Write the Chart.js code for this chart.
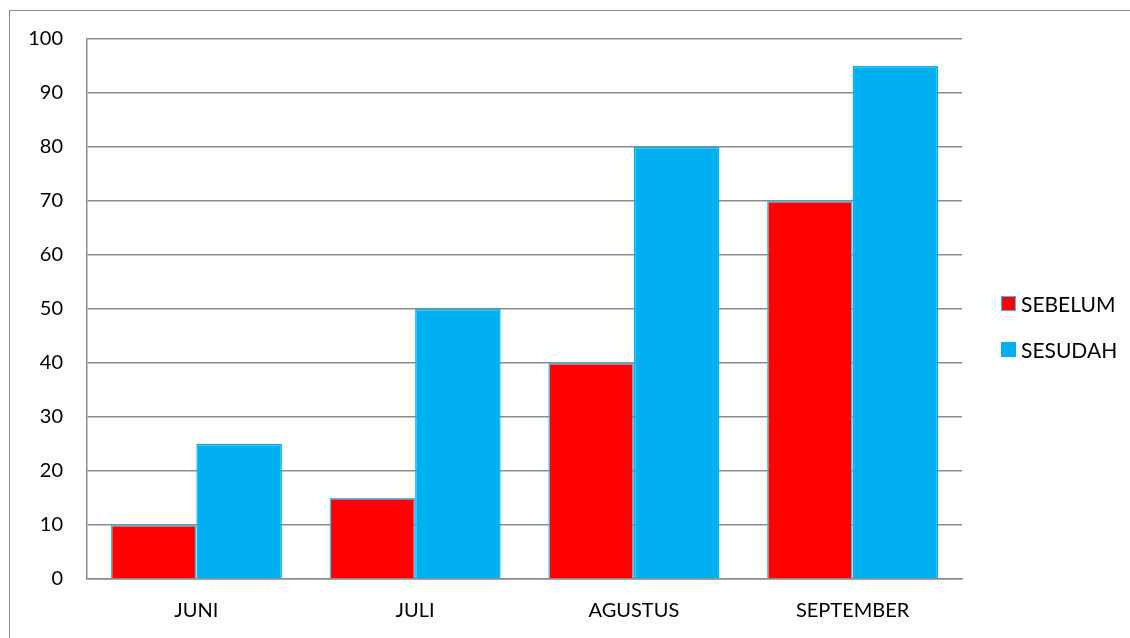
<!DOCTYPE html>
<html>
<head>
<meta charset="utf-8">
<script src="https://cdn.jsdelivr.net/npm/chart.js@4"></script>
<style>
  html, body { margin: 0; padding: 0; background: #fff; overflow: hidden; }
  #frame { position: absolute; left: 9px; top: 10px; width: 1140px; height: 650px; border: 1.5px solid #8c8c8c; box-sizing: border-box; }
  #wrap { position: absolute; left: 0; top: 0; width: 1130px; height: 638px; }
  #legend { position: absolute; left: 1001px; top: 291px; font-family: Lato, "Open Sans", sans-serif; font-size: 21px; color: #000; }
  .item { display: flex; align-items: center; height: 24px; margin-bottom: 22px; }
  .sw { width: 15px; height: 15px; box-sizing: border-box; margin-right: 5px; }
</style>
</head>
<body>
<div id="frame"></div>
<div id="wrap"><canvas id="c" width="1130" height="638"></canvas></div>
<div id="legend"></div>
<script>
const categories = ["JUNI", "JULI", "AGUSTUS", "SEPTEMBER"];
const sebelum = [10, 15, 40, 70];
const sesudah = [25, 50, 80, 95];
const seriesNames = ["SEBELUM", "SESUDAH"];
const yTicks = [0, 10, 20, 30, 40, 50, 60, 70, 80, 90, 100];

const RED = "#ff0000";
const BLUE = "#00b0f0";
const GRID = "#8c8c8c";
const XFONT = { family: "Lato, 'Open Sans', sans-serif", size: 20 };
const YFONT = { family: "Lato, 'Open Sans', sans-serif", size: 20 };

const chart = new Chart(document.getElementById("c"), {
  type: "bar",
  data: {
    labels: categories,
    datasets: [
      { label: seriesNames[0], data: sebelum, backgroundColor: RED, borderColor: "#33c0f3", borderWidth: 1.5 },
      { label: seriesNames[1], data: sesudah, backgroundColor: BLUE, borderColor: BLUE, borderWidth: 1.5 }
    ]
  },
  options: {
    responsive: false,
    animation: false,
    devicePixelRatio: 1,
    layout: { padding: { left: 0, right: 168, top: 39, bottom: 19 } },
    plugins: { legend: { display: false }, tooltip: { enabled: false } },
    datasets: { bar: { categoryPercentage: 0.782, barPercentage: 1.0 } },
    scales: {
      x: {
        grid: { display: false, drawTicks: false },
        border: { display: true, color: GRID, width: 1.5 },
        ticks: { color: "#000", font: XFONT, padding: 20 },
        afterFit: (s) => { s.height = 40; }
      },
      y: {
        min: 0, max: 100,
        afterBuildTicks: (s) => { s.ticks = yTicks.map(v => ({ value: v })); },
        grid: { color: GRID, lineWidth: 1.5, drawTicks: false },
        border: { display: true, color: GRID, width: 1.5 },
        ticks: { color: "#000", font: YFONT, padding: 24, stepSize: 10 },
        afterFit: (s) => { s.width = 87; }
      }
    }
  }
});

const legend = document.getElementById("legend");
chart.data.datasets.forEach(ds => {
  const item = document.createElement("div");
  item.className = "item";
  const sw = document.createElement("span");
  sw.className = "sw";
  sw.style.background = ds.backgroundColor;
  sw.style.border = "1.5px solid " + ds.borderColor;
  const t = document.createElement("span");
  t.textContent = ds.label;
  item.appendChild(sw);
  item.appendChild(t);
  legend.appendChild(item);
});
</script>
</body>
</html>
